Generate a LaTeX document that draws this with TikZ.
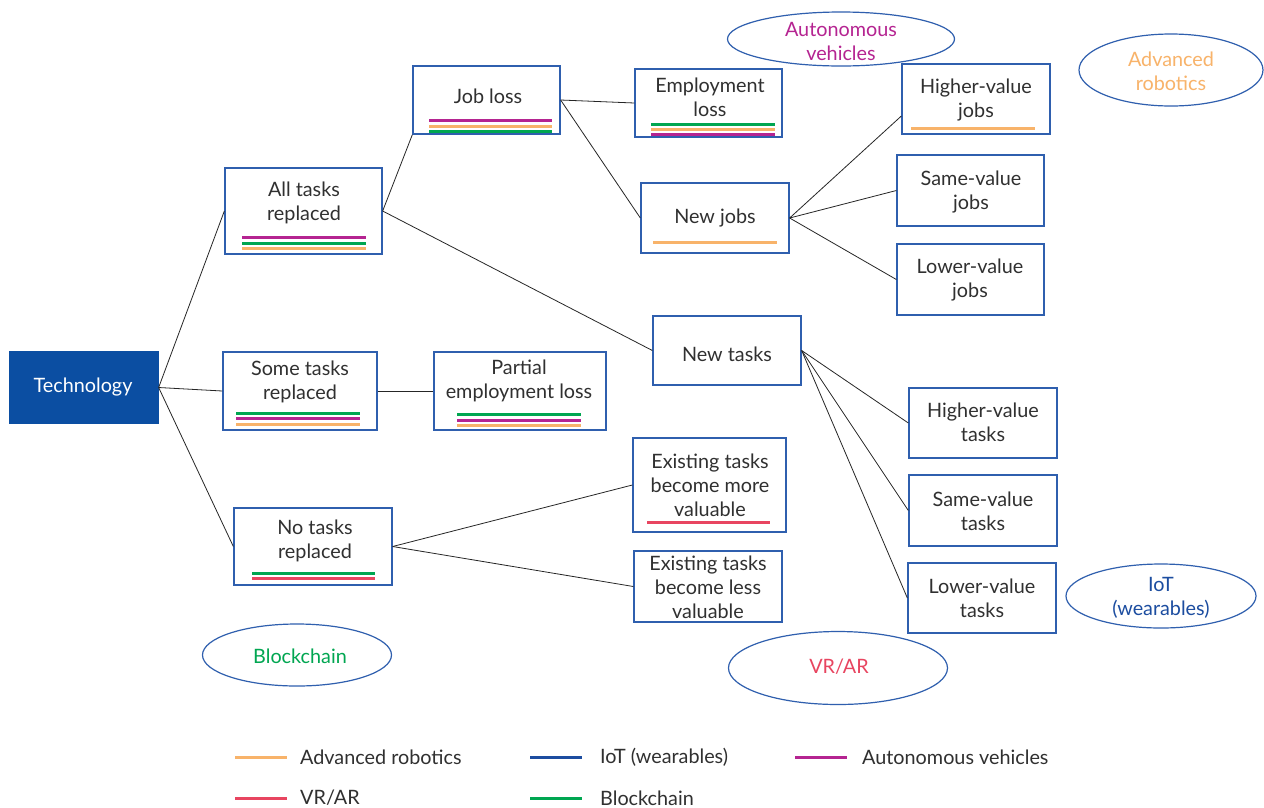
\documentclass[tikz,border=0pt]{standalone}
\usepackage{fontspec}
\setmainfont{Lato}
\usetikzlibrary{calc,fit,shapes.geometric}
\definecolor{techblue}{HTML}{0B4EA2}
\definecolor{edgeblue}{HTML}{2F5FAE}
\definecolor{robo}{HTML}{F8B36A}
\definecolor{autov}{HTML}{B52491}
\definecolor{chain}{HTML}{00A651}
\definecolor{vrar}{HTML}{E84560}
\definecolor{iot}{HTML}{1C4DA0}
\definecolor{ink}{HTML}{303030}
\begin{document}
\begin{tikzpicture}[x=1pt,y=-1pt,
  every node/.style={font=\fontsize{19.8}{24}\selectfont, text=ink},
  box/.style={draw=edgeblue, line width=1.3pt, fill=white, inner sep=0pt},
  lbl/.style={align=center, inner sep=0pt},
  link/.style={draw=black!85, line width=0.8pt},
  bar/.style={line width=3pt},
  tag/.style={ellipse, draw=edgeblue, line width=1.2pt, fill=white, inner sep=0pt}]

\path[use as bounding box, fill=white] (0,0) rectangle (1264,807);

% boxes of the tree
\node[box, draw=techblue, fill=techblue, fit={(10,352) (158,423)}] (tech) {};
\node[box, fit={(225,168) (382,254)}] (all) {};
\node[box, fit={(413,66) (560,134)}] (job) {};
\node[box, fit={(635,69) (782,137)}] (emp) {};
\node[box, fit={(641,183) (789,253)}] (njob) {};
\node[box, fit={(902,64) (1050,134)}] (hvj) {};
\node[box, fit={(897,155) (1044,226)}] (svj) {};
\node[box, fit={(897,244) (1044,315)}] (lvj) {};
\node[box, fit={(653,316) (801,385)}] (ntask) {};
\node[box, fit={(223,352) (377,430)}] (some) {};
\node[box, fit={(434,352) (606,430)}] (part) {};
\node[box, fit={(234,508) (392,585)}] (none) {};
\node[box, fit={(633,438) (786,532)}] (more) {};
\node[box, fit={(634,551) (782,622)}] (less) {};
\node[box, fit={(909,388) (1057,458)}] (hvt) {};
\node[box, fit={(909,475) (1057,546)}] (svt) {};
\node[box, fit={(908,563) (1056,633)}] (lvt) {};

% box texts
\node[lbl, text=white] (tech-t) at (83,387) {Technology};
\node[lbl] (all-t) at (304,203) {All tasks\\replaced};
\node[lbl] (job-t) at (488,96) {Job loss};
\node[lbl] (emp-t) at (710,97) {Employment\\loss};
\node[lbl] (njob-t) at (715,218) {New jobs};
\node[lbl] (hvj-t) at (976,100) {Higher-value\\jobs};
\node[lbl] (svj-t) at (971,192) {Same-value\\jobs};
\node[lbl] (lvj-t) at (970,280) {Lower-value\\jobs};
\node[lbl] (ntask-t) at (727,354) {New tasks};
\node[lbl] (some-t) at (300,382) {Some tasks\\replaced};
\node[lbl] (part-t) at (519,381) {Partial\\employment loss};
\node[lbl] (none-t) at (315,541) {No tasks\\replaced};
\node[lbl] (more-t) at (710,485) {Existing tasks\\become more\\valuable};
\node[lbl] (less-t) at (708,587) {Existing tasks\\become less\\valuable};
\node[lbl] (hvt-t) at (983,422) {Higher-value\\tasks};
\node[lbl] (svt-t) at (983,511) {Same-value\\tasks};
\node[lbl] (lvt-t) at (982,598) {Lower-value\\tasks};

% technology tags
\node[tag, minimum width=227, minimum height=54] (tag-auto) at (841,39) {};
\node[lbl, text=autov] (tag-auto-t) at (841,41) {Autonomous\\vehicles};
\node[tag, minimum width=184, minimum height=72] (tag-robo) at (1171,70) {};
\node[lbl, text=robo] (tag-robo-t) at (1171,71) {Advanced\\robotics};
\node[tag, minimum width=190, minimum height=64] (tag-iot) at (1161,596) {};
\node[lbl, text=iot] (tag-iot-t) at (1161,598) {IoT\\(wearables)};
\node[tag, minimum width=189, minimum height=62] (tag-chain) at (297,655) {};
\node[lbl, text=chain] (tag-chain-t) at (300,656) {Blockchain};
\node[tag, minimum width=219, minimum height=73] (tag-vr) at (838,668) {};
\node[lbl, text=vrar] (tag-vr-t) at (839,667) {VR/AR};

% connectors
\draw[link] (tech.east) -- (all.west);
\draw[link] (tech.east) -- (some.west);
\draw[link] (tech.east) -- (none.west);
\draw[link] (all.east) -- (job.south west);
\draw[link] (all.east) -- (ntask.west);
\draw[link] (job.east) -- (emp.west);
\draw[link] (job.east) -- (njob.west);
\draw[link] (njob.east) -- ($(hvj.west)+(0,17)$);
\draw[link] (njob.east) -- (svj.west);
\draw[link] (njob.east) -- (lvj.west);
\draw[link] (ntask.east) -- (hvt.west);
\draw[link] (ntask.east) -- (svt.west);
\draw[link] (ntask.east) -- (lvt.west);
\draw[link] (some.east) -- (part.west);
\draw[link] (none.east) -- (more.west);
\draw[link] (none.east) -- (less.west);

% technology bars under the boxes
\draw[bar, autov] (242,237) -- (366,237);
\draw[bar, chain] (242,243) -- (366,243);
\draw[bar, robo]  (242,248) -- (366,248);

\draw[bar, autov] (429,120) -- (552,120);
\draw[bar, robo]  (429,126) -- (552,126);
\draw[bar, chain] (429,131) -- (552,131);

\draw[bar, chain] (651,124) -- (775,124);
\draw[bar, robo]  (651,129) -- (775,129);
\draw[bar, autov] (651,134) -- (775,134);

\draw[bar, robo] (653,242) -- (777,242);
\draw[bar, robo] (911,128) -- (1035,128);

\draw[bar, chain] (236,413) -- (360,413);
\draw[bar, autov] (236,418) -- (360,418);
\draw[bar, robo]  (236,424) -- (360,424);

\draw[bar, chain] (457,414) -- (581,414);
\draw[bar, autov] (457,420) -- (581,420);
\draw[bar, robo]  (457,425) -- (581,425);

\draw[bar, chain] (252,573) -- (375,573);
\draw[bar, vrar]  (252,578) -- (375,578);

\draw[bar, vrar] (647,522) -- (770,522);

% legend
\draw[bar, robo]  (235,757) -- (287,757);
\node[lbl, anchor=west] (leg-robo) at (300,757) {Advanced robotics};
\draw[bar, iot]   (530,757) -- (582,757);
\node[lbl, anchor=west] (leg-iot) at (600,757) {IoT (wearables)};
\draw[bar, autov] (795,757) -- (847,757);
\node[lbl, anchor=west] (leg-auto) at (862,757) {Autonomous vehicles};
\draw[bar, vrar]  (235,798) -- (287,798);
\node[lbl, anchor=west] (leg-vr) at (300,798) {VR/AR};
\draw[bar, chain] (530,798) -- (582,798);
\node[lbl, anchor=west] (leg-chain) at (600,798) {Blockchain};
\end{tikzpicture}
\end{document}
